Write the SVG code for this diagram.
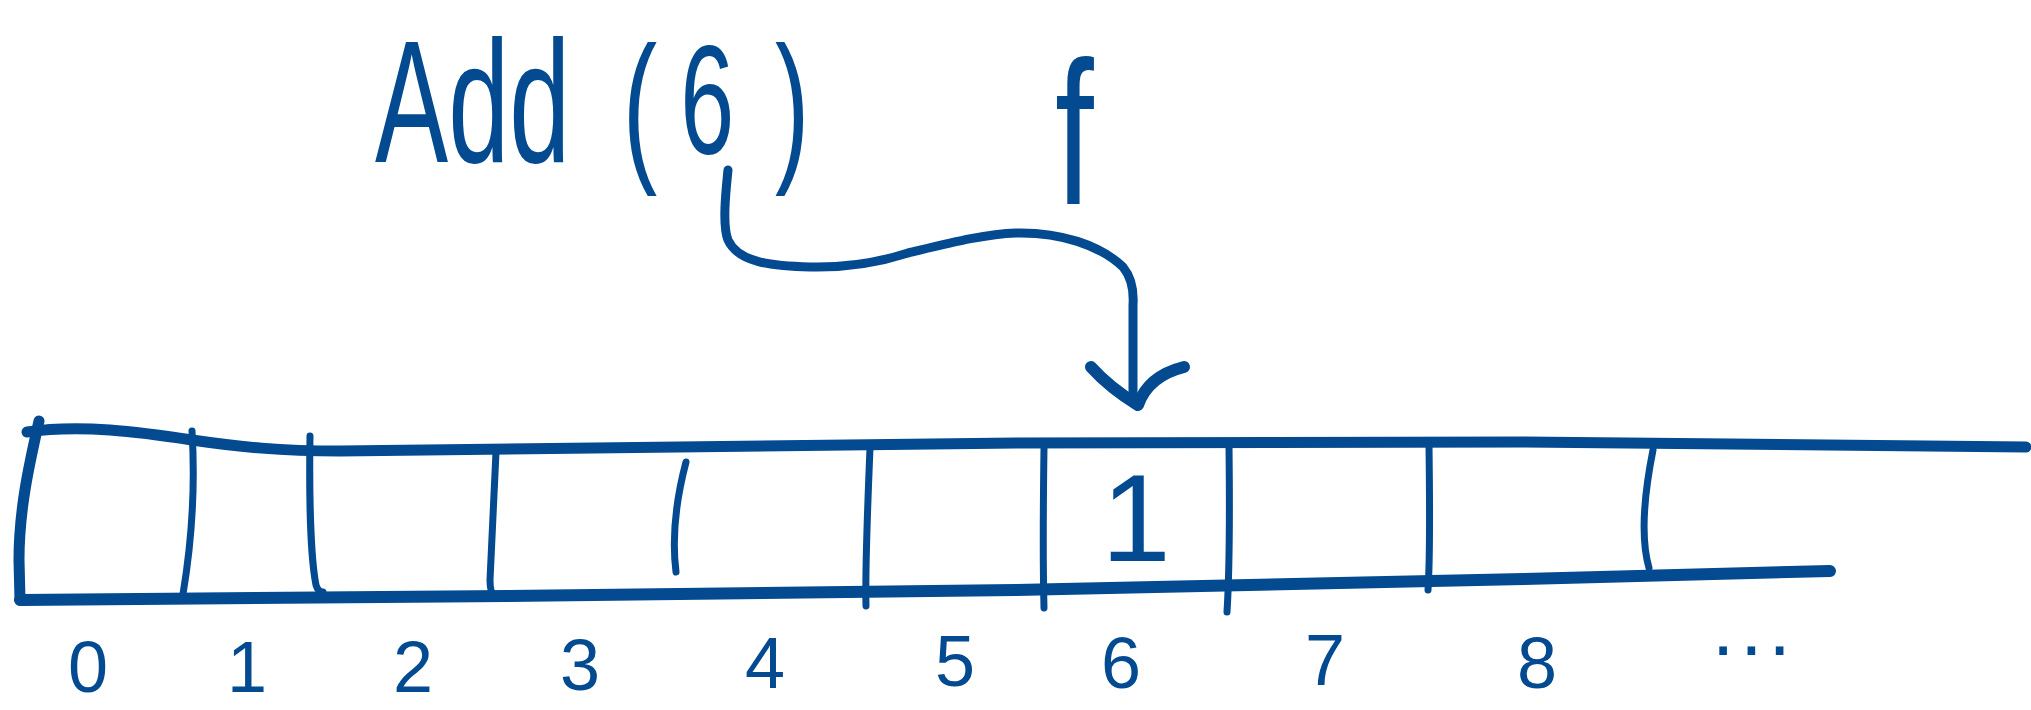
<svg xmlns="http://www.w3.org/2000/svg" width="2031" height="710" viewBox="0 0 2031 710">
<style>
.ink{fill:none;stroke:#034a91;stroke-linecap:round;stroke-linejoin:round}
.edge{stroke-width:11}
.base{stroke-width:12}
.div{stroke-width:7}
.t{fill:#034a91;font-family:"Liberation Sans",Arial,sans-serif}
.idx{font-size:72px;text-anchor:middle}
</style>
<rect width="2031" height="710" fill="#ffffff"/>
<g id="title">
<text class="t" transform="translate(375,162) scale(0.627,1)" font-size="175">Add <tspan font-size="165" x="395" y="0">(</tspan><tspan font-size="155" x="487" y="-9">6</tspan><tspan font-size="165" x="638" y="0">)</tspan></text>
</g>
<g id="hash-f">
<text class="t" transform="translate(1055,204) scale(0.68,1)" font-size="205">f</text>
</g>
<g id="array">
<path class="ink edge" d="M27,432 C80,424 140,432 192,440 C240,447 280,451 340,451 L1016,443 L1524,442 L2026,447"/>
<path class="ink edge" d="M39,421 C29,465 19,510 19,560 L20,600"/>
<path class="ink base" d="M20,600 L508,596 L1016,590 L1524,579 L1830,571"/>
</g>
<g id="cells">
<path class="ink div" d="M192,431 C195,480 192,540 183,594"/>
<path class="ink div" d="M310,436 C309,500 311,560 316,585 Q318,592 323,592"/>
<path class="ink div" d="M496,452 L490,580 Q490,592 494,596"/>
<path class="ink div" d="M686,462 C676,500 672,540 676,572"/>
<path class="ink div" d="M870,448 C867,520 865,570 866,606"/>
<path class="ink div" d="M1044,448 C1043,520 1043,570 1044,608"/>
<path class="ink div" d="M1229,446 C1230,530 1229,580 1227,612"/>
<path class="ink div" d="M1429,446 C1430,520 1430,560 1428,590"/>
<path class="ink div" d="M1653,450 C1643,500 1641,540 1649,568"/>
</g>
<g id="cell-6-value">
<text class="t" x="1136" y="561" font-size="125" text-anchor="middle">1</text>
</g>
<g id="indices">
<text class="t idx" x="88" y="692">0</text>
<text class="t idx" x="247" y="692">1</text>
<text class="t idx" x="413" y="692">2</text>
<text class="t idx" x="580" y="690">3</text>
<text class="t idx" x="765" y="688">4</text>
<text class="t idx" x="955" y="686">5</text>
<text class="t idx" x="1121" y="688">6</text>
<text class="t idx" x="1325" y="685">7</text>
<text class="t idx" x="1537" y="688">8</text>
<text class="t" x="1712" y="655" font-size="80" letter-spacing="6">...</text>
</g>
<g id="connectors">
<path class="ink" stroke-width="9" d="M728,170 C726,190 722,225 728,240 C738,262 770,266 810,267 C850,268 880,262 908,253 C950,243 985,234 1016,233 C1060,232 1100,245 1123,267 C1132,278 1134,290 1133,305 L1133,398"/>
<path class="ink" stroke-width="12" d="M1091,367 Q1110,388 1138,405 C1145,385 1160,373 1184,367"/>
</g>
</svg>
